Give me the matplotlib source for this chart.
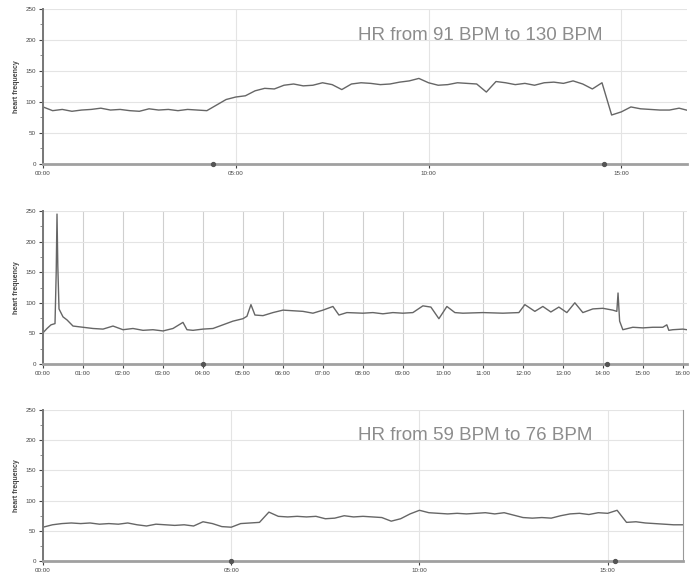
import matplotlib
matplotlib.use('Agg')
import matplotlib.pyplot as plt
from matplotlib.ticker import MultipleLocator, FuncFormatter
import numpy as np

plt.rcParams['font.family'] = ['Liberation Sans', 'DejaVu Sans']

# top recording, one value every 15 s
top_hr = [92, 86, 88, 85, 87, 88, 90, 87, 88, 86, 85, 89, 87, 88, 86, 88,
          87, 86, 95, 104, 108, 110, 118, 122, 121, 127, 129, 126, 127, 131,
          128, 120, 129, 131, 130, 128, 129, 132, 134, 138, 131, 127, 128,
          131, 130, 129, 116, 133, 131, 128, 130, 127, 131, 132, 130, 134,
          129, 121, 131, 79, 84, 92, 89, 88, 87, 87, 90, 86]
top_step = 0.25
top_end = 16.7
top_marks = [4.4, 14.55]
top_title = "HR from 91 BPM to 130 BPM"

# middle recording, irregular samples (minutes)
mid_t = [0.0, 0.1, 0.2, 0.3, 0.33, 0.35, 0.37, 0.4, 0.5, 0.6, 0.75, 1.0,
         1.25, 1.5, 1.75, 2.0, 2.25, 2.5, 2.75, 3.0, 3.25, 3.5, 3.6, 3.75,
         4.0, 4.25, 4.5, 4.75, 5.0, 5.1, 5.2, 5.3, 5.5, 5.75, 6.0, 6.25,
         6.5, 6.75, 7.0, 7.25, 7.4, 7.6, 8.0, 8.25, 8.5, 8.75, 9.0, 9.25,
         9.5, 9.7, 9.9, 10.1, 10.3, 10.5, 11.0, 11.5, 11.9, 12.05, 12.3,
         12.5, 12.7, 12.9, 13.1, 13.3, 13.5, 13.75, 14.0, 14.25, 14.35,
         14.38, 14.42, 14.5, 14.75, 15.0, 15.25, 15.5, 15.6, 15.65, 15.75,
         16.0, 16.1]
mid_hr = [51, 58, 64, 66, 150, 245, 160, 90, 77, 72, 62, 60,
          58, 57, 62, 56, 58, 55, 56, 54, 58, 68, 56, 55,
          57, 58, 64, 70, 74, 78, 97, 80, 79, 84, 88, 87,
          86, 83, 88, 94, 80, 84, 83, 84, 82, 84, 83, 84,
          95, 93, 74, 94, 84, 83, 84, 83, 84, 97, 86,
          94, 85, 93, 84, 100, 84, 90, 91, 88, 86,
          116, 70, 56, 60, 59, 60, 60, 64, 55, 56,
          57, 56]
mid_end = 16.1
mid_marks = [4.0, 14.1]

# bottom recording, one value every 15 s
bot_hr = [56, 60, 62, 63, 62, 63, 61, 62, 61, 63, 60, 58, 61, 60, 59, 60,
          58, 65, 62, 57, 56, 62, 63, 64, 81, 74, 73, 74, 73, 74, 70, 71,
          75, 73, 74, 73, 72, 66, 70, 78, 84, 80, 79, 78, 79, 78, 79, 80,
          78, 80, 76, 72, 71, 72, 71, 75, 78, 79, 77, 80, 79, 84, 64, 65,
          63, 62, 61, 60, 60]
bot_step = 0.25
bot_end = 17.0
bot_marks = [5.0, 15.2]
bot_title = "HR from 59 BPM to 76 BPM"

line_col = '#666666'


def mmss(v, pos):
    return "%02d:00" % int(round(v))


def style_axis(ax, xmax, major, right_spine=False):
    ax.set_xlim(0, xmax)
    ax.set_ylim(0, 250)
    ax.xaxis.set_major_locator(MultipleLocator(major))
    ax.xaxis.set_major_formatter(FuncFormatter(mmss))
    ax.yaxis.set_major_locator(MultipleLocator(50))
    ax.yaxis.set_minor_locator(MultipleLocator(25))
    ax.grid(True, axis='both', color='#e4e4e4', linewidth=0.8)
    ax.set_axisbelow(True)
    ax.spines['top'].set_visible(False)
    ax.spines['right'].set_visible(right_spine)
    ax.spines['right'].set_color('#999999')
    ax.spines['left'].set_color('#777777')
    ax.spines['left'].set_linewidth(1.4)
    ax.spines['bottom'].set_color('#a0a0a0')
    ax.spines['bottom'].set_linewidth(2)
    ax.tick_params(axis='both', labelsize=4.5, colors='#444444', length=3,
                   width=0.8, pad=2)
    ax.tick_params(axis='y', which='minor', length=2, color='#777777')
    ax.set_ylabel('heart frequency', fontsize=5, color='#444444',
                  fontweight='bold', labelpad=4)


def add_marks(ax, marks):
    ax.plot(marks, [0] * len(marks), marker='o', markersize=2.8,
            color='#555555', linestyle='none', clip_on=False, zorder=5)


fig = plt.figure(figsize=(6.96, 5.75), dpi=100)

ax1 = fig.add_axes([0.0618, 0.7148, 0.925, 0.2696])
ax1.plot(np.arange(len(top_hr)) * top_step, top_hr, color=line_col, linewidth=1.0)
style_axis(ax1, top_end, 5)
add_marks(ax1, top_marks)
ax1.text(0.49, 0.83, top_title, transform=ax1.transAxes, fontsize=13.5,
         color='#8c8c8c', ha='left', va='center')

ax2 = fig.add_axes([0.0618, 0.367, 0.925, 0.266])
ax2.plot(mid_t, mid_hr, color=line_col, linewidth=1.0)
style_axis(ax2, mid_end, 1)
ax2.grid(True, axis='x', color='#cfcfcf', linewidth=0.8)
add_marks(ax2, mid_marks)

ax3 = fig.add_axes([0.0618, 0.0243, 0.9195, 0.2626])
ax3.plot(np.arange(len(bot_hr)) * bot_step, bot_hr, color=line_col, linewidth=1.0)
style_axis(ax3, bot_end, 5, right_spine=True)
add_marks(ax3, bot_marks)
ax3.text(0.492, 0.83, bot_title, transform=ax3.transAxes, fontsize=13.5,
         color='#8c8c8c', ha='left', va='center')

fig.savefig('out.png', dpi=100)
